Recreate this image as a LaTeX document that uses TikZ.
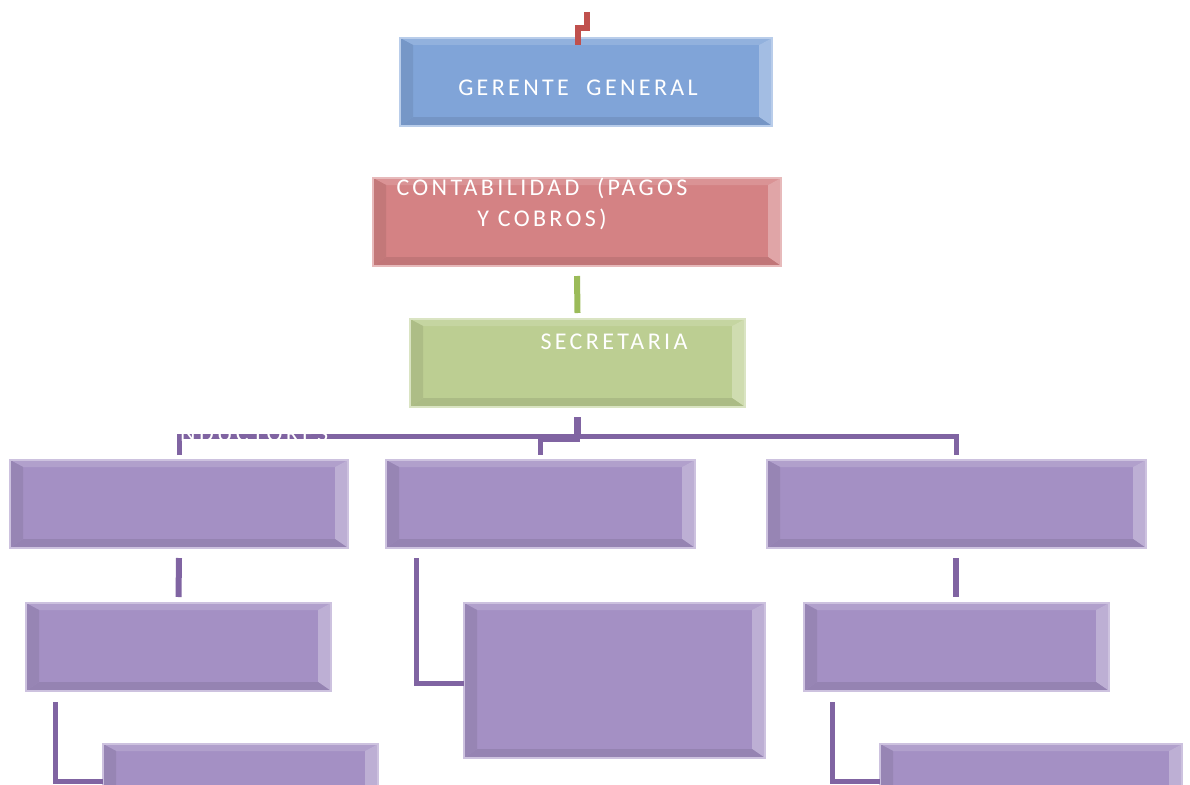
\documentclass[tikz,border=0pt]{standalone}
\usepackage{fontspec}
\usetikzlibrary{calc}
\newfontfamily\lblfont[LetterSpace=14]{Carlito}
\definecolor{cblue}{HTML}{80A4D8}
\definecolor{cred}{HTML}{D48284}
\definecolor{cgreen}{HTML}{BCCE92}
\definecolor{cpurple}{HTML}{A490C4}
\definecolor{lred}{HTML}{C0504D}
\definecolor{lgreen}{HTML}{9BBB59}
\definecolor{lpurple}{HTML}{8064A2}
\tikzset{
  bevelbox/.style={draw=#1!55!white, line width=1.5pt, fill=#1, inner sep=0pt, outer sep=0pt,
    path picture={
      \coordinate (pnw) at (path picture bounding box.north west);
      \coordinate (pne) at (path picture bounding box.north east);
      \coordinate (psw) at (path picture bounding box.south west);
      \coordinate (pse) at (path picture bounding box.south east);
      \fill[#1!86!white] (pnw) -- (pne) -- ($(pne)+(-13,7)$) -- ($(pnw)+(13,7)$) -- cycle;
      \fill[#1!72!white] (pne) -- (pse) -- ($(pse)+(-13,-9)$) -- ($(pne)+(-13,7)$) -- cycle;
      \fill[#1!91!black] (pse) -- (psw) -- ($(psw)+(13,-9)$) -- ($(pse)+(-13,-9)$) -- cycle;
      \fill[#1!92!black] (psw) -- (pnw) -- ($(pnw)+(13,7)$) -- ($(psw)+(13,-9)$) -- cycle;
    }},
  lbl/.style={text=white, font=\lblfont\fontsize{24}{31}\selectfont, inner sep=0pt},
  conn/.style={line width=#1, line cap=butt, line join=miter},
  conn/.default=5.5pt,
}
\begin{document}
\begin{tikzpicture}[x=1pt,y=-1pt]
\useasboundingbox (0,0) rectangle (1190,784);
\clip (0,0) rectangle (1190,784);
% boxes
\node[bevelbox=cblue, minimum width=372pt, minimum height=88pt] (g) at (586,82) {};
\node[bevelbox=cred, minimum width=408pt, minimum height=88pt] (c) at (577,222) {};
\node[bevelbox=cgreen, minimum width=335pt, minimum height=88pt] (s) at (577.5,363) {};
\node[bevelbox=cpurple, minimum width=338pt, minimum height=88pt] (a) at (179,504) {};
\node[bevelbox=cpurple, minimum width=309pt, minimum height=88pt] (b) at (540.5,504) {};
\node[bevelbox=cpurple, minimum width=379pt, minimum height=88pt] (cc) at (956.5,504) {};
\node[bevelbox=cpurple, minimum width=305pt, minimum height=88pt] (a2) at (178.5,647) {};
\node[bevelbox=cpurple, minimum width=301pt, minimum height=155pt] (b2) at (614.5,680.5) {};
\node[bevelbox=cpurple, minimum width=305pt, minimum height=88pt] (c2) at (956.5,647) {};
\node[bevelbox=cpurple, minimum width=275pt, minimum height=88pt] (a3) at (240.5,788) {};
\node[bevelbox=cpurple, minimum width=302pt, minimum height=88pt] (c3) at (1031,788) {};
% texts
\node[lbl] (gt) at (578,88) {GERENTE\ \ GENERAL};
\node[lbl, align=center] (ct) at (542,204) {CONTABILIDAD\ \ (PAGOS\\Y COBROS)};
\node[lbl] (st) at (614,342) {SECRETARIA};
% connectors
\coordinate (rtop) at (587,12);
\draw[conn=6pt, lred] (rtop) -- ++(0,16) -| ([xshift=-8pt,yshift=-7pt]g.north);
\draw[conn=6pt, lgreen] ([yshift=-10pt]c.south) -- ([yshift=6pt]s.north);
\coordinate (hub) at (577.5,436);
\draw[conn=6.5pt, lpurple] ([yshift=-10pt]s.south) -- (hub);
\draw[conn=5pt, lpurple] ([yshift=5pt]a.north) |- (hub) -| ([yshift=5pt]cc.north);
\draw[conn=5pt, lpurple] ([yshift=-10pt]s.south) -- ++(0,22) -| ([yshift=5pt]b.north);
\draw[conn=6pt, lpurple] ([yshift=-10pt]a.south) -- ([yshift=6pt]a2.north);
\draw[conn=5pt, lpurple] ([xshift=30pt,yshift=-10pt]b.south west) |- ([yshift=-3pt]b2.west);
\draw[conn=6pt, lpurple] ([xshift=-1pt,yshift=-10pt]cc.south) -- ([xshift=-1pt,yshift=6pt]c2.north);
\draw[conn=5pt, lpurple] ([xshift=29pt,yshift=-11pt]a2.south west) |- ([yshift=-37pt]a3.north west);
\draw[conn=5pt, lpurple] ([xshift=28pt,yshift=-11pt]c2.south west) |- ([yshift=-37pt]c3.north west);
\node[lbl, anchor=west, font=\lblfont\fontsize{24}{28}\selectfont] (nd) at (180,434) {NDUCTORES};
\end{tikzpicture}
\end{document}
